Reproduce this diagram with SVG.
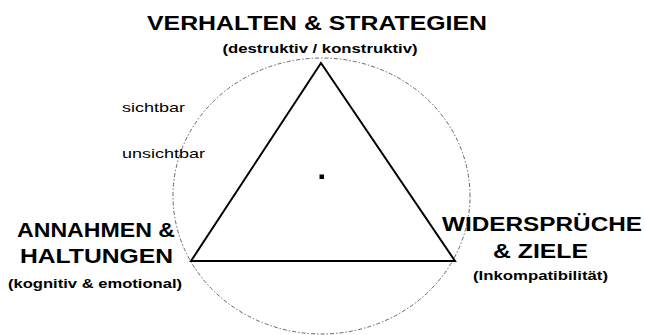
<svg xmlns="http://www.w3.org/2000/svg" width="645" height="335" viewBox="0 0 645 335">
<style>
.h{font-family:"Liberation Sans",Arial,sans-serif;font-weight:bold;font-size:21px;fill:#000;text-anchor:middle}
.s{font-family:"Liberation Sans",Arial,sans-serif;font-weight:bold;font-size:13px;fill:#000;text-anchor:middle}
.r{font-family:"Liberation Sans",Arial,sans-serif;font-size:13px;fill:#000}
</style>
<rect width="645" height="335" fill="#fff"/>
<g id="connectors">
<ellipse cx="321.5" cy="196" rx="148.5" ry="138" fill="none" stroke="#666" stroke-width="1" stroke-dasharray="1.5 2 4 2"/>
<polygon points="321,63 191,261 455,261" fill="none" stroke="#000" stroke-width="2" stroke-linejoin="miter"/>
<rect x="319.5" y="174.5" width="4.5" height="4.5" fill="#000"/>
</g>
<g id="top">
<text class="h" x="317" y="30" textLength="340" lengthAdjust="spacingAndGlyphs">VERHALTEN &amp; STRATEGIEN</text>
<text class="s" x="320" y="53" textLength="195" lengthAdjust="spacingAndGlyphs">(destruktiv / konstruktiv)</text>
</g>
<g id="left">
<text class="h" x="96" y="237" textLength="158" lengthAdjust="spacingAndGlyphs">ANNAHMEN &amp;</text>
<text class="h" x="96.5" y="263" textLength="153" lengthAdjust="spacingAndGlyphs">HALTUNGEN</text>
<text class="s" x="95" y="288" textLength="174" lengthAdjust="spacingAndGlyphs">(kognitiv &amp; emotional)</text>
</g>
<g id="right">
<text class="h" x="542" y="231" textLength="200" lengthAdjust="spacingAndGlyphs">WIDERSPRÜCHE</text>
<text class="h" x="540.5" y="258" textLength="95" lengthAdjust="spacingAndGlyphs">&amp; ZIELE</text>
<text class="s" x="540.5" y="280" textLength="135" lengthAdjust="spacingAndGlyphs">(Inkompatibilität)</text>
</g>
<g id="labels">
<text class="r" x="122" y="112" textLength="63" lengthAdjust="spacingAndGlyphs">sichtbar</text>
<text class="r" x="122" y="158" textLength="83" lengthAdjust="spacingAndGlyphs">unsichtbar</text>
</g>
</svg>
